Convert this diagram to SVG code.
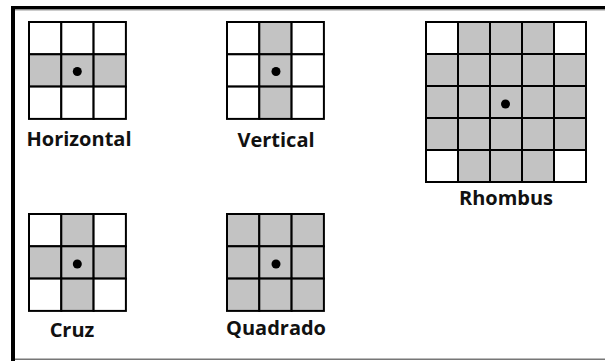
<svg xmlns="http://www.w3.org/2000/svg" width="605" height="361" viewBox="0 0 605 361">
<style>
.c{stroke:#000;stroke-width:2;fill:#fff}
.g{fill:#c3c3c3}
.d{fill:#000}
.t{font-family:"Open Sans","DejaVu Sans",sans-serif;font-weight:bold;font-size:20px;fill:#111;text-anchor:middle}
</style>
<rect x="0" y="0" width="605" height="361" fill="#fff"/>
<g id="frame">
<rect x="12" y="6" width="593" height="3.5" fill="#000"/>
<rect x="12" y="9.5" width="593" height="1" fill="#999"/>
<rect x="11" y="6" width="4" height="355" fill="#000"/>
<rect x="15" y="358.5" width="590" height="1.5" fill="#777"/>
</g>
<g id="horizontal">
<rect class="c" x="29" y="22" width="32.3" height="32.3"/>
<rect class="c" x="61.3" y="22" width="32.3" height="32.3"/>
<rect class="c" x="93.6" y="22" width="32.3" height="32.3"/>
<rect class="c g" x="29" y="54.3" width="32.3" height="32.3"/>
<rect class="c g" x="61.3" y="54.3" width="32.3" height="32.3"/>
<rect class="c g" x="93.6" y="54.3" width="32.3" height="32.3"/>
<rect class="c" x="29" y="86.6" width="32.3" height="32.3"/>
<rect class="c" x="61.3" y="86.6" width="32.3" height="32.3"/>
<rect class="c" x="93.6" y="86.6" width="32.3" height="32.3"/>
<circle class="d" cx="77.3" cy="71.5" r="4.5"/>
<text class="t" x="79" y="145.5">Horizontal</text>
</g>
<g id="vertical">
<rect class="c" x="227" y="22" width="32.3" height="32.3"/>
<rect class="c g" x="259.3" y="22" width="32.3" height="32.3"/>
<rect class="c" x="291.6" y="22" width="32.3" height="32.3"/>
<rect class="c" x="227" y="54.3" width="32.3" height="32.3"/>
<rect class="c g" x="259.3" y="54.3" width="32.3" height="32.3"/>
<rect class="c" x="291.6" y="54.3" width="32.3" height="32.3"/>
<rect class="c" x="227" y="86.6" width="32.3" height="32.3"/>
<rect class="c g" x="259.3" y="86.6" width="32.3" height="32.3"/>
<rect class="c" x="291.6" y="86.6" width="32.3" height="32.3"/>
<circle class="d" cx="276" cy="71.5" r="4.5"/>
<text class="t" x="276" y="146.5">Vertical</text>
</g>
<g id="rhombus">
<rect class="c" x="426" y="22" width="32" height="32"/>
<rect class="c g" x="458" y="22" width="32" height="32"/>
<rect class="c g" x="490" y="22" width="32" height="32"/>
<rect class="c g" x="522" y="22" width="32" height="32"/>
<rect class="c" x="554" y="22" width="32" height="32"/>
<rect class="c g" x="426" y="54" width="32" height="32"/>
<rect class="c g" x="458" y="54" width="32" height="32"/>
<rect class="c g" x="490" y="54" width="32" height="32"/>
<rect class="c g" x="522" y="54" width="32" height="32"/>
<rect class="c g" x="554" y="54" width="32" height="32"/>
<rect class="c g" x="426" y="86" width="32" height="32"/>
<rect class="c g" x="458" y="86" width="32" height="32"/>
<rect class="c g" x="490" y="86" width="32" height="32"/>
<rect class="c g" x="522" y="86" width="32" height="32"/>
<rect class="c g" x="554" y="86" width="32" height="32"/>
<rect class="c g" x="426" y="118" width="32" height="32"/>
<rect class="c g" x="458" y="118" width="32" height="32"/>
<rect class="c g" x="490" y="118" width="32" height="32"/>
<rect class="c g" x="522" y="118" width="32" height="32"/>
<rect class="c g" x="554" y="118" width="32" height="32"/>
<rect class="c" x="426" y="150" width="32" height="32"/>
<rect class="c g" x="458" y="150" width="32" height="32"/>
<rect class="c g" x="490" y="150" width="32" height="32"/>
<rect class="c g" x="522" y="150" width="32" height="32"/>
<rect class="c" x="554" y="150" width="32" height="32"/>
<circle class="d" cx="505.5" cy="104" r="4.5"/>
<text class="t" x="506" y="205">Rhombus</text>
</g>
<g id="cruz">
<rect class="c" x="29" y="214" width="32.3" height="32.3"/>
<rect class="c g" x="61.3" y="214" width="32.3" height="32.3"/>
<rect class="c" x="93.6" y="214" width="32.3" height="32.3"/>
<rect class="c g" x="29" y="246.3" width="32.3" height="32.3"/>
<rect class="c g" x="61.3" y="246.3" width="32.3" height="32.3"/>
<rect class="c g" x="93.6" y="246.3" width="32.3" height="32.3"/>
<rect class="c" x="29" y="278.6" width="32.3" height="32.3"/>
<rect class="c g" x="61.3" y="278.6" width="32.3" height="32.3"/>
<rect class="c" x="93.6" y="278.6" width="32.3" height="32.3"/>
<circle class="d" cx="77.3" cy="264" r="4.5"/>
<text class="t" x="72" y="336.5">Cruz</text>
</g>
<g id="quadrado">
<rect class="c g" x="227" y="214" width="32.3" height="32.3"/>
<rect class="c g" x="259.3" y="214" width="32.3" height="32.3"/>
<rect class="c g" x="291.6" y="214" width="32.3" height="32.3"/>
<rect class="c g" x="227" y="246.3" width="32.3" height="32.3"/>
<rect class="c g" x="259.3" y="246.3" width="32.3" height="32.3"/>
<rect class="c g" x="291.6" y="246.3" width="32.3" height="32.3"/>
<rect class="c g" x="227" y="278.6" width="32.3" height="32.3"/>
<rect class="c g" x="259.3" y="278.6" width="32.3" height="32.3"/>
<rect class="c g" x="291.6" y="278.6" width="32.3" height="32.3"/>
<circle class="d" cx="276" cy="264" r="4.5"/>
<text class="t" x="276" y="335">Quadrado</text>
</g>
<g id="connectors"></g>
</svg>
